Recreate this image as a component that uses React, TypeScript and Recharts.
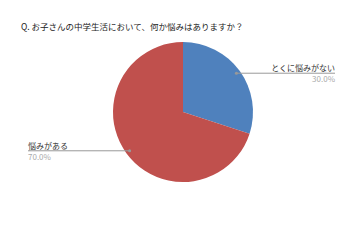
import { PieChart, Pie, Cell } from "recharts";

const categories = ["とくに悩みがない", "悩みがある"];
const shares = [30.0, 70.0];
const colors = ["#4F81BD", "#C0504D"];
const title = "Q. お子さんの中学生活において、何か悩みはありますか？";

const data = categories.map((name, i) => ({ name, value: shares[i] }));

const FONT = '"Noto Sans CJK JP", "Noto Sans", sans-serif';
const RAD = Math.PI / 180;

function renderLabel(props: any) {
  const { cx, cy, midAngle, outerRadius, name, value } = props;
  const r = outerRadius - 4;
  const x = cx + r * Math.cos(-midAngle * RAD);
  const y = cy + r * Math.sin(-midAngle * RAD);
  const right = x > cx;
  const endX = right ? 335 : 28;
  return (
    <g>
      <circle cx={x} cy={y} r={1.5} fill="#999" />
      <line x1={x} y1={y} x2={endX} y2={y} stroke="#999" strokeWidth={1} />
      <text x={endX} y={y - 2} textAnchor={right ? "end" : "start"} fontSize={8} fill="#333" fontFamily={FONT}>
        {name}
      </text>
      <text x={endX} y={y + 9} textAnchor={right ? "end" : "start"} fontSize={8} fill="#aaa" fontFamily={FONT}>
        {value.toFixed(1)}%
      </text>
    </g>
  );
}

export default function App() {
  return (
    <div style={{ position: "fixed", left: 0, top: 0, width: 360, height: 240, background: "#fff" }}>
      <div style={{ position: "absolute", left: 21, top: 20, fontSize: 8.5, fontFamily: FONT, color: "#222", whiteSpace: "nowrap", lineHeight: "12px" }}>
        {title}
      </div>
      <PieChart width={360} height={240} margin={{ top: 0, right: 0, bottom: 0, left: 0 }}>
        <Pie
          data={data}
          dataKey="value"
          nameKey="name"
          cx={183}
          cy={112}
          outerRadius={70}
          startAngle={90}
          endAngle={-270}
          stroke="none"
          label={renderLabel}
          labelLine={false}
          isAnimationActive={false}
        >
          {data.map((d, i) => (
            <Cell key={d.name} fill={colors[i]} />
          ))}
        </Pie>
      </PieChart>
    </div>
  );
}
